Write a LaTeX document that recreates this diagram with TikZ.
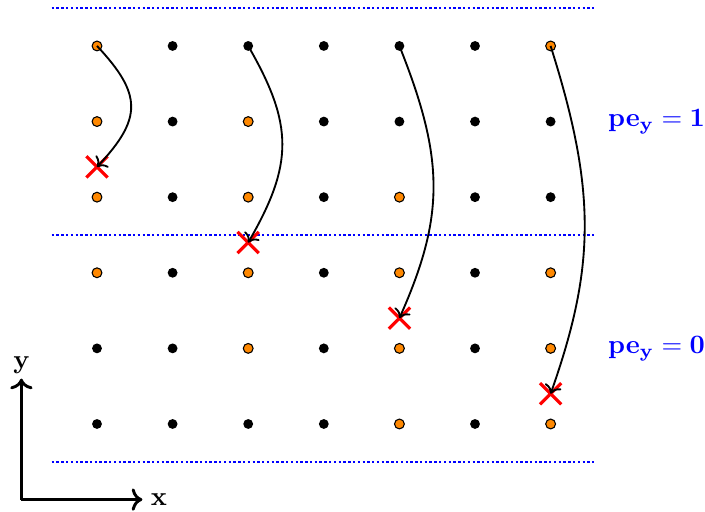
\documentclass[tikz,border=0pt]{standalone}
\usetikzlibrary{shapes.misc,arrows.meta}
\definecolor{dotorange}{RGB}{255,136,0}
\begin{document}
\begin{tikzpicture}[x=1cm,y=1cm,
  bdot/.style={circle,fill=black,inner sep=0pt,minimum size=3.7pt},
  odot/.style={circle,draw=black,line width=0.4pt,fill=dotorange,inner sep=0pt,minimum size=3.7pt},
  xmark/.style={cross out,draw=red,line width=1.2pt,inner sep=0pt,minimum size=6.8pt},
  sep/.style={blue,line width=0.9pt,dash pattern=on 0.9pt off 0.9pt},
  move/.style={line width=0.7pt,->},
  axis/.style={line width=1.1pt,->},
  pelabel/.style={text=blue,font=\bfseries}]
\useasboundingbox (-1.283,-1.164) rectangle (8.042,5.608);
% separators
\coordinate (s1a) at (-0.6,5.5);  \coordinate (s1b) at (6.6,5.5);
\coordinate (s2a) at (-0.6,2.5);  \coordinate (s2b) at (6.6,2.5);
\coordinate (s3a) at (-0.6,-0.5); \coordinate (s3b) at (6.6,-0.5);
\draw[sep] (s1a) -- (s1b);
\draw[sep] (s2a) -- (s2b);
\draw[sep] (s3a) -- (s3b);
% dots
\foreach \c in {0,...,6}{
  \foreach \r in {0,...,5}{
    \node[bdot] (d-\c-\r) at (\c,\r) {};
  }
}
\foreach \c/\r in {0/5,0/4,0/3,0/2, 2/4,2/3,2/2,2/1, 4/3,4/2,4/1,4/0, 6/5,6/2,6/1,6/0}{
  \node[odot] at (\c,\r) {};
}
% crosses
\node[xmark] (x0) at (0,3.4) {};
\node[xmark] (x1) at (2,2.4) {};
\node[xmark] (x2) at (4,1.4) {};
\node[xmark] (x3) at (6,0.4) {};
% curves
\draw[move] (d-0-5.center) .. controls +(0.6,-0.64) and +(0.6,0.64) .. (x0.center);
\draw[move] (d-2-5.center) .. controls +(0.6,-1.04) and +(0.6,1.04) .. (x1.center);
\draw[move] (d-4-5.center) .. controls +(0.6,-1.5) and +(0.6,1.35) .. (x2.center);
\draw[move] (d-6-5.center) .. controls +(0.6,-1.9) and +(0.6,1.7) .. (x3.center);
% labels
\node[pelabel] (pe1) at (7.4,4.0) {$\mathbf{pe_y = 1}$};
\node[pelabel] (pe0) at (7.4,1.0) {$\mathbf{pe_y = 0}$};
% axes
\coordinate (o) at (-1,-1);
\coordinate (ytip) at (-1,0.6);
\coordinate (xtip) at (0.6,-1);
\draw[axis] (o) -- (ytip);
\draw[axis] (o) -- (xtip);
\node[anchor=south,inner sep=1.5pt] (ylab) at (ytip) {\textbf{y}};
\node[anchor=west,inner sep=3pt] (xlab) at (xtip) {\textbf{x}};
\end{tikzpicture}
\end{document}
